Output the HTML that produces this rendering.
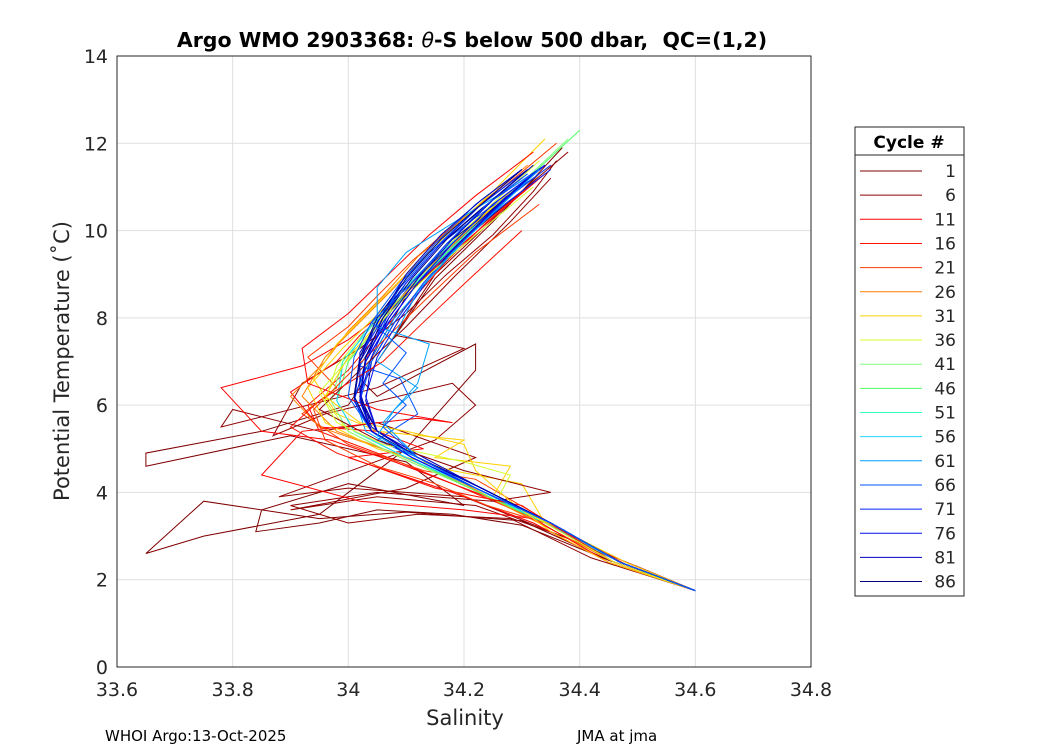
<!DOCTYPE html>
<html><head><meta charset="utf-8"><style>
body{margin:0;background:#fff;font-family:"Liberation Sans",sans-serif}
svg text{font-family:"DejaVu Sans","Liberation Sans",sans-serif}
</style></head><body>
<svg id="c" width="1050" height="750" xmlns="http://www.w3.org/2000/svg">
<rect width="1050" height="750" fill="#fff"/>
<g id="grid"></g>
<g id="lines"></g>
<rect x="117" y="56" width="694" height="611" fill="none" stroke="#262626" stroke-width="1"/>
<g id="ticks"></g>
<text x="472" y="47" text-anchor="middle" font-size="20.5" font-weight="bold" fill="#000" xml:space="preserve">Argo WMO 2903368: <tspan font-style="italic" font-weight="normal">θ</tspan>-S below 500 dbar,  QC=(1,2)</text>
<text x="465" y="725" text-anchor="middle" font-size="21" fill="#262626">Salinity</text>
<text transform="translate(69,361) rotate(-90)" text-anchor="middle" font-size="21" fill="#262626">Potential Temperature (˚C)</text>
<text x="105" y="741" font-size="15" fill="#000">WHOI Argo:13-Oct-2025</text>
<text x="577" y="741" font-size="15" fill="#000">JMA at jma</text>
<g id="legend"></g>
</svg>
<script>
const xTicks=[33.6,33.8,34,34.2,34.4,34.6,34.8];
const xTickLabels=["33.6","33.8","34","34.2","34.4","34.6","34.8"];
const yTicks=[0,2,4,6,8,10,12,14];
const legendCycles=[1,6,11,16,21,26,31,36,41,46,51,56,61,66,71,76,81,86];
const legendColors=["#800000","#8f0000","#ff0000","#ff0f00","#ff3c00","#ff7f00","#ffd000","#d4ff2b","#80ff7f","#4fff60","#30ffc0","#20d8ff","#00a0ff","#0050ff","#0020ff","#0010ee","#0000c0","#00007f"];
const profColor=[0,0,1,1,2,2,3,4,5,5,6,6,7,8,9,10,11,12,13,14,15,16,17,17,16,15,14,13,1,2,3,4,6,7,12,13,13,14,15,16,17,17,16,15,12,13];
const profS=[
[34.60,34.45,34.30,34.10,33.95,33.85,33.75,33.65,33.75,33.95,34.10,34.22,34.22,34.12,34.05,34.02,34.10,34.20,34.30,34.37],
[34.60,34.45,34.30,34.18,34.05,33.95,33.84,33.85,34.00,34.20,34.10,33.90,33.65,33.65,33.85,34.00,34.05,34.15,34.25,34.33],
[34.60,34.48,34.38,34.22,34.05,33.90,34.10,34.22,34.05,33.95,33.80,33.78,34.05,34.20,34.08,34.15,34.23,34.30,34.38],
[34.60,34.50,34.35,34.20,34.00,33.88,34.15,34.22,34.18,33.96,33.87,33.92,34.02,34.10,34.17,34.25,34.32,34.36],
[34.60,34.45,34.32,34.18,34.00,34.13,34.05,33.95,33.90,33.98,34.02,34.08,34.14,34.20,34.28,34.35],
[34.60,34.48,34.30,34.20,34.08,33.97,33.85,33.78,33.92,34.00,34.06,34.12,34.18,34.26,34.34],
[34.60,34.48,34.34,34.18,34.05,33.95,33.93,34.00,34.05,34.11,34.17,34.24,34.32],
[34.60,34.47,34.35,34.22,34.13,34.00,33.92,33.98,33.93,34.00,34.05,34.11,34.18,34.26,34.36],
[34.60,34.46,34.33,34.20,34.08,33.95,33.90,33.96,34.00,34.06,34.12,34.20,34.30],
[34.60,34.46,34.33,34.21,34.10,33.98,33.92,33.96,34.02,34.08,34.14,34.22,34.31],
[34.60,34.48,34.36,34.25,34.28,34.15,34.20,34.05,33.98,33.94,33.98,34.04,34.10,34.17,34.25,34.34],
[34.60,34.47,34.34,34.30,34.18,34.05,33.96,33.93,33.99,34.06,34.13,34.21,34.30],
[34.60,34.47,34.34,34.21,34.09,34.00,33.96,33.98,34.03,34.09,34.16,34.24,34.33],
[34.60,34.47,34.34,34.21,34.09,34.00,33.97,33.99,34.04,34.10,34.17,34.26,34.38],
[34.60,34.47,34.34,34.21,34.10,34.01,33.98,34.00,34.05,34.11,34.18,34.27,34.40],
[34.60,34.47,34.34,34.22,34.10,34.01,33.98,33.99,34.04,34.10,34.17,34.25,34.33],
[34.60,34.47,34.34,34.22,34.10,34.01,33.98,33.99,34.03,34.09,34.16,34.24,34.32],
[34.60,34.47,34.35,34.22,34.11,34.03,34.01,34.04,34.08,34.14,34.21,34.29],
[34.60,34.47,34.35,34.22,34.12,34.05,34.12,34.09,34.02,34.06,34.09,34.14,34.22,34.32],
[34.60,34.47,34.35,34.23,34.12,34.04,34.02,34.03,34.07,34.12,34.19,34.27,34.35],
[34.60,34.47,34.35,34.23,34.12,34.04,34.02,34.04,34.07,34.12,34.19,34.26,34.33],
[34.60,34.47,34.35,34.23,34.12,34.04,34.01,34.02,34.06,34.11,34.18,34.25,34.32],
[34.60,34.47,34.35,34.23,34.12,34.04,34.01,34.02,34.05,34.10,34.16,34.23,34.30],
[34.60,34.47,34.35,34.23,34.12,34.05,34.02,34.03,34.06,34.11,34.17,34.24,34.31],
[34.60,34.47,34.35,34.23,34.13,34.05,34.03,34.04,34.08,34.13,34.19,34.26,34.33],
[34.60,34.47,34.35,34.22,34.11,34.04,34.02,34.03,34.07,34.12,34.18,34.25,34.33],
[34.60,34.47,34.35,34.22,34.11,34.04,34.01,34.03,34.06,34.11,34.17,34.25,34.34],
[34.60,34.47,34.35,34.22,34.11,34.04,34.02,34.04,08.0+26.08,34.13,34.20,34.28,34.35],
[34.60,34.42,34.28,34.12,34.00,33.90,34.05,34.25,34.35,34.20,34.05,33.95,34.02,34.10,34.18,34.28,34.35],
[34.60,34.45,34.32,34.20,34.02,33.85,33.92,34.12,34.18,34.05,33.93,33.92,34.00,34.07,34.14,34.22,34.32],
[34.60,34.46,34.36,34.30,34.15,33.98,33.90,33.95,34.06,34.13,34.21,34.30],
[34.60,34.46,34.34,34.24,34.15,34.05,33.96,33.94,34.00,34.07,34.14,34.22,34.33],
[34.60,34.45,34.35,34.28,34.22,34.20,34.10,34.02,33.96,34.00,34.06,34.12,34.19,34.28],
[34.60,34.46,34.34,34.26,34.28,34.20,34.06,33.98,33.95,34.01,34.07,34.14,34.22,34.32],
[34.60,34.47,34.35,34.22,34.12,34.06,34.12,34.14,34.05,34.05,34.10,34.16,34.22,34.32],
[34.60,34.47,34.35,34.22,34.11,34.04,34.01,34.02,34.05,34.09,34.15,34.22,34.30],
[34.60,34.47,34.35,34.22,34.11,34.04,34.00,34.01,34.04,34.09,34.15,34.22,34.30],
[34.60,34.47,34.35,34.23,34.12,34.04,34.01,34.02,34.06,34.10,34.16,34.23,34.31],
[34.60,34.47,34.35,34.23,34.12,34.05,34.03,34.05,34.09,34.14,34.20,34.27,34.34],
[34.60,34.47,34.35,34.23,34.12,34.05,34.02,34.03,34.07,34.12,34.18,34.25,34.32],
[34.60,34.47,34.35,34.23,34.12,34.04,34.02,34.03,34.06,34.11,34.17,34.24,34.31],
[34.60,34.47,34.35,34.23,34.12,34.04,34.01,34.02,34.05,34.10,34.16,34.23,34.30],
[34.60,34.47,34.35,34.23,34.12,34.04,34.02,34.02,34.06,34.10,34.16,34.23,34.30],
[34.60,34.47,34.35,34.22,34.11,34.04,34.02,34.03,34.07,34.12,34.18,34.25,34.33],
[34.60,34.47,34.35,34.22,34.12,34.05,34.08,34.12,34.05,34.08,34.12,34.18,34.25,34.33],
[34.60,34.47,34.35,34.22,34.12,34.06,34.10,34.06,34.10,34.04,34.11,34.17,34.24,34.31]
];
const profT=[
[1.75,2.45,3.35,3.55,3.4,3.6,3.8,2.6,3.0,3.5,5.0,6.8,7.4,6.7,6.2,6.6,8.5,9.8,10.9,11.9],
[1.75,2.45,3.25,3.5,3.6,3.3,3.1,3.6,4.2,3.7,4.7,5.3,4.6,4.9,5.4,6.0,7.0,8.9,10.2,11.3],
[1.75,2.35,2.95,3.7,3.9,3.6,4.1,4.8,5.6,5.4,5.9,5.5,6.4,7.3,7.6,9.0,10.0,10.9,11.8],
[1.75,2.3,3.1,3.9,4.1,3.9,5.2,6.0,6.5,5.8,5.3,6.5,7.3,8.1,9.0,9.9,10.9,11.6],
[1.75,2.4,3.3,4.0,4.8,5.0,5.4,5.5,6.3,7.0,7.6,8.3,9.1,9.9,10.8,11.5],
[1.75,2.35,3.6,4.1,4.7,5.2,5.4,6.4,6.9,7.5,8.1,8.8,9.5,10.4,11.3],
[1.75,2.4,3.3,4.2,4.9,5.4,6.0,6.8,7.6,8.4,9.3,10.2,11.1],
[1.75,2.4,3.3,4.3,4.5,5.1,5.8,6.4,7.1,7.8,8.5,9.3,10.1,10.9,12.0],
[1.75,2.4,3.3,4.2,4.9,5.5,6.2,7.0,7.7,8.5,9.4,10.3,11.4],
[1.75,2.4,3.3,4.1,4.8,5.4,6.2,7.1,7.9,8.7,9.6,10.5,11.5],
[1.75,2.4,3.2,3.9,4.6,4.8,5.2,5.4,5.8,6.6,7.4,8.2,9.0,9.9,10.9,12.1],
[1.75,2.4,3.3,4.2,4.5,5.0,5.6,6.4,7.3,8.2,9.1,10.1,11.1],
[1.75,2.4,3.3,4.1,4.8,5.4,6.1,6.9,7.7,8.6,9.5,10.5,11.6],
[1.75,2.4,3.3,4.1,4.8,5.4,6.1,7.0,7.8,8.7,9.6,10.6,12.1],
[1.75,2.4,3.3,4.1,4.8,5.4,6.1,7.0,7.8,8.7,9.6,10.7,12.3],
[1.75,2.4,3.3,4.1,4.8,5.4,6.1,7.0,7.8,8.6,9.5,10.5,11.4],
[1.75,2.4,3.3,4.1,4.8,5.4,6.1,6.9,7.7,8.6,9.5,10.4,11.3],
[1.75,2.4,3.3,4.1,4.8,5.4,6.2,7.1,8.0,8.9,9.9,10.9],
[1.75,2.4,3.3,4.1,4.8,5.2,5.8,6.6,6.9,7.8,8.8,9.5,10.3,11.2],
[1.75,2.4,3.3,4.1,4.8,5.4,6.1,7.0,7.9,8.8,9.7,10.6,11.4],
[1.75,2.4,3.3,4.1,4.8,5.4,6.2,7.1,8.0,8.9,9.8,10.6,11.4],
[1.75,2.4,3.3,4.1,4.8,5.4,6.1,7.0,7.9,8.8,9.7,10.5,11.3],
[1.75,2.4,3.3,4.1,4.8,5.4,6.1,7.0,7.9,8.8,9.7,10.5,11.2],
[1.75,2.4,3.3,4.1,4.8,5.4,6.1,7.0,7.9,8.8,9.7,10.4,11.1],
[1.75,2.4,3.3,4.1,4.8,5.4,6.1,7.0,7.9,8.8,9.7,10.6,11.3],
[1.75,2.4,3.3,4.1,4.8,5.4,6.1,7.0,7.9,8.8,9.7,10.6,11.4],
[1.75,2.4,3.3,4.1,4.8,5.4,6.1,7.0,7.9,8.8,9.7,10.7,11.5],
[1.75,2.4,3.3,4.1,4.8,5.4,6.1,7.0,7.9,8.8,9.8,10.8,11.5],
[1.75,2.5,3.4,3.5,3.3,3.7,4.0,3.8,4.0,4.5,5.2,5.9,6.8,7.8,8.9,10.2,11.2],
[1.75,2.4,3.4,3.6,3.8,4.4,5.4,5.7,5.6,5.9,6.5,7.3,8.1,9.0,9.9,10.8,11.8],
[1.75,2.4,3.2,3.7,4.1,4.9,5.5,6.1,7.0,7.9,8.9,10.0],
[1.75,2.4,3.3,3.7,4.2,4.6,5.2,5.9,6.7,7.6,8.5,9.5,10.6],
[1.75,2.4,3.1,3.8,4.5,5.1,5.4,5.6,6.2,7.1,8.0,8.9,9.8,10.9],
[1.75,2.4,3.3,3.9,4.4,4.7,5.1,5.6,6.3,7.2,8.1,9.0,9.9,11.0],
[1.75,2.4,3.3,4.1,4.8,5.6,6.5,7.4,7.8,8.7,9.5,10.0,10.5,11.3],
[1.75,2.4,3.3,4.1,4.8,5.4,6.2,7.1,7.9,8.7,9.6,10.5,11.3],
[1.75,2.4,3.3,4.1,4.8,5.4,6.2,7.1,7.9,8.8,9.7,10.6,11.4],
[1.75,2.4,3.3,4.1,4.8,5.4,6.2,7.1,8.0,8.8,9.7,10.6,11.4],
[1.75,2.4,3.3,4.1,4.8,5.4,6.2,7.1,8.0,8.9,9.8,10.7,11.5],
[1.75,2.4,3.3,4.1,4.8,5.4,6.2,7.1,8.0,8.9,9.8,10.7,11.5],
[1.75,2.4,3.3,4.1,4.8,5.4,6.2,7.1,8.0,8.9,9.8,10.6,11.4],
[1.75,2.4,3.3,4.1,4.8,5.4,6.2,7.1,8.0,8.9,9.8,10.6,11.4],
[1.75,2.4,3.3,4.1,4.8,5.5,6.3,7.2,8.1,9.0,9.9,10.7,11.4],
[1.75,2.4,3.3,4.1,4.8,5.4,6.1,7.0,7.9,8.8,9.7,10.6,11.4],
[1.75,2.4,3.3,4.1,4.8,5.3,5.9,6.4,7.0,7.6,8.6,9.5,10.4,11.4],
[1.75,2.4,3.3,4.1,4.8,5.5,6.0,6.5,7.2,7.9,8.8,9.7,10.6,11.3]
];
const NS="http://www.w3.org/2000/svg";
const X0=117,X1=811,Y0=667,Y1=56;
const xs=v=>X0+(v-33.6)/(34.8-33.6)*(X1-X0);
const ys=v=>Y0-(v-0)/(14-0)*(Y0-Y1);
function mk(t,a,p){const e=document.createElementNS(NS,t);for(const k in a)e.setAttribute(k,a[k]);p.appendChild(e);return e;}
const grid=document.getElementById('grid'),tk=document.getElementById('ticks');
xTicks.forEach((v,i)=>{
 const l=mk('line',{x1:xs(v),x2:xs(v),y1:Y1,y2:Y0,stroke:'#dfdfdf'},grid);
 
 
 const t=mk('text',{x:xs(v),y:Y0+29,'text-anchor':'middle','font-size':19,fill:'#262626'},tk);
 t.textContent=xTickLabels[i];
 
 
});
yTicks.forEach(v=>{
 const l=mk('line',{x1:X0,x2:X1,y1:ys(v),y2:ys(v),stroke:'#dfdfdf'},grid);
 
 
 const t=mk('text',{x:X0-9,y:ys(v)+7,'text-anchor':'end','font-size':19,fill:'#262626'},tk);
 t.textContent=String(v);
 
 
});
const lines=document.getElementById('lines');
profS.forEach((s,i)=>{
 const pts=s.map((v,j)=>xs(v).toFixed(1)+','+ys(profT[i][j]).toFixed(1)).join(' ');
 const p=mk('polyline',{points:pts,fill:'none',stroke:legendColors[profColor[i]],'stroke-width':1},lines);
 
 
});
const lg=document.getElementById('legend');
mk('rect',{x:855,y:127,width:109,height:469,fill:'#fff',stroke:'#262626'},lg);
mk('line',{x1:855,x2:964,y1:155,y2:155,stroke:'#262626'},lg);
const h=mk('text',{x:909,y:148,'text-anchor':'middle','font-size':17,'font-weight':'bold'},lg);
h.textContent='Cycle #';


legendCycles.forEach((c,i)=>{
 const y=171+i*24.15;
 const l=mk('line',{x1:860,x2:922,y1:y,y2:y,stroke:legendColors[i],'stroke-width':1},lg);
 
 
 const t=mk('text',{x:956,y:y+6,'text-anchor':'end','font-size':17,fill:'#262626'},lg);
 t.textContent=String(c);
 
 
});
</script>
</body></html>
